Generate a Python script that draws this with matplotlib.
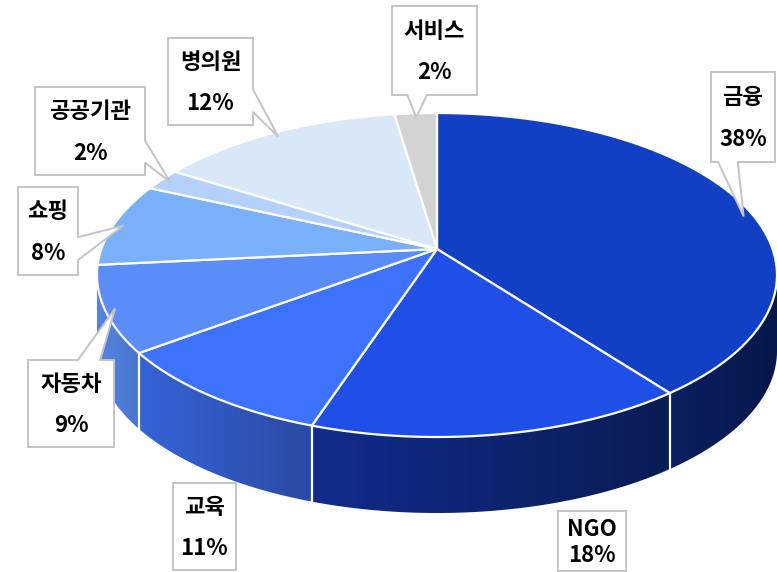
"""
3D-style pie chart of sector shares (Korean labels), drawn in pixel space.
"""
import numpy as np
import matplotlib.pyplot as plt
from matplotlib.patches import Polygon
from matplotlib.colors import to_rgb

# ---- data -------------------------------------------------------------
labels = ["금융", "NGO", "교육", "자동차", "쇼핑", "공공기관", "병의원", "서비스"]
shares = [38, 18, 11, 9, 8, 2, 12, 2]

# ---- style ------------------------------------------------------------
TOP_COLORS = ["#1140c4", "#1f4fe6", "#3d73fb", "#5a8df7",
              "#79b0f9", "#b3d1fa", "#d9e8f8", "#d3d3d3"]
# (left, right) colours of the extruded side wall
SIDE_COLORS = [("#0b1f60", "#07174a"), ("#112c8c", "#0a1c54"),
               ("#3663d6", "#2a4ba4"), ("#5586e2", "#4874cc"),
               ("#5f93e0", "#5f93e0"), ("#9ab8e8", "#9ab8e8"),
               ("#b8cce6", "#b8cce6"), ("#b0b0b0", "#b0b0b0")]

CX, CY = 437, 275          # centre of the rim ellipse (pixels)
RX, RY = 340, 162          # rim radii
APEX = (437, 249)          # where the slices meet
DEPTH = 76                 # thickness of the pie

FONT = ["Noto Sans CJK KR", "DejaVu Sans"]

# label box layout: centre x, centre y, width, height, tail (edge, f0, f1)
LABEL_BOX = {
    "서비스": (434.5, 50.5, 85, 89, ("bottom", 0.18, 0.41)),
    "금융": (743, 117, 64, 90, ("bottom", 0.11, 0.42)),
    "병의원": (210.5, 81.5, 85, 87, ("right", 0.59, 0.85)),
    "공공기관": (90, 131, 110, 88, ("right", 0.61, 0.86)),
    "쇼핑": (48, 231, 60, 88, ("right", 0.57, 0.83)),
    "자동차": (71, 403.5, 86, 87, ("top", 0.58, 0.84)),
    "교육": (204.5, 526.5, 63, 87, None),
    "NGO": (592, 541, 68, 60, None),
}


def rim(t, dy=0.0):
    """Point on the rim ellipse; t in degrees clockwise from 12 o'clock."""
    r = np.deg2rad(t)
    return CX + RX * np.sin(r), CY - RY * np.cos(r) + dy


def arc(a, b, dy=0.0, n=80):
    ts = np.linspace(a, b, n)
    xs, ys = rim(ts, dy)
    return np.column_stack([xs, ys])


def callout(cx, cy, w, h, tail, tip):
    x0, x1, y0, y1 = cx - w / 2, cx + w / 2, cy - h / 2, cy + h / 2
    pts = [(x0, y0)]
    if tail and tail[0] == "top":
        pts += [(x0 + tail[1] * w, y0), tip, (x0 + tail[2] * w, y0)]
    pts.append((x1, y0))
    if tail and tail[0] == "right":
        pts += [(x1, y0 + tail[1] * h), tip, (x1, y0 + tail[2] * h)]
    pts.append((x1, y1))
    if tail and tail[0] == "bottom":
        pts += [(x0 + tail[2] * w, y1), tip, (x0 + tail[1] * w, y1)]
    pts.append((x0, y1))
    return pts


fig = plt.figure(figsize=(7.77, 5.72), dpi=100)
ax = fig.add_axes([0, 0, 1, 1])
ax.axis("off")

total = float(sum(shares))
bounds = np.concatenate([[0], np.cumsum(shares)]) / total * 360.0

# side walls (only the front half of the rim, 90..270 deg, is visible)
for i, (a, b) in enumerate(zip(bounds[:-1], bounds[1:])):
    lo, hi = max(a, 90), min(b, 270)
    if hi <= lo:
        continue
    top = arc(lo, hi)
    bot = arc(hi, lo, DEPTH)
    poly = Polygon(np.vstack([top, bot]), closed=True, facecolor="none",
                   edgecolor="none", zorder=1)
    ax.add_patch(poly)
    xmin, xmax = top[:, 0].min(), top[:, 0].max()
    ymin, ymax = top[:, 1].min() - 2, bot[:, 1].max() + 2
    c0, c1 = np.array(to_rgb(SIDE_COLORS[i][0])), np.array(to_rgb(SIDE_COLORS[i][1]))
    f = np.linspace(0, 1, 200)[:, None]
    grad = (c0 * (1 - f) + c1 * f)[None, :, :]
    im = ax.imshow(grad, extent=[xmin, xmax, ymax, ymin], aspect="auto",
                   interpolation="bilinear", zorder=1)
    im.set_clip_path(poly)

# white seams on the side wall
for t in bounds[1:-1]:
    if 90 < t < 270:
        x, y = rim(t)
        ax.plot([x, x], [y, y + DEPTH], color="white", lw=1.6, zorder=2)

# top face slices
for i, (a, b) in enumerate(zip(bounds[:-1], bounds[1:])):
    pts = np.vstack([[APEX], arc(a, b)])
    ax.add_patch(Polygon(pts, closed=True, facecolor=TOP_COLORS[i],
                         edgecolor="white", lw=1.6, joinstyle="round", zorder=3))

# data labels with callout boxes
for i, (lab, val) in enumerate(zip(labels, shares)):
    cx, cy, w, h, tail = LABEL_BOX[lab]
    mid = (bounds[i] + bounds[i + 1]) / 2
    rx, ry = rim(mid)
    tip = (APEX[0] + 0.97 * (rx - APEX[0]), APEX[1] + 0.97 * (ry - APEX[1]))
    ax.add_patch(Polygon(callout(cx, cy, w, h, tail, tip), closed=True,
                         facecolor="white", edgecolor="#c4c4c4", lw=1.4,
                         joinstyle="miter", zorder=5))
    gap = (-12, 15) if h < 70 else (-19, 22)
    ax.text(cx, cy + gap[0], lab, ha="center", va="center", fontsize=16,
            fontweight="bold", family=FONT, zorder=6)
    ax.text(cx, cy + gap[1], f"{val}%", ha="center", va="center", fontsize=16,
            fontweight="bold", family=FONT, zorder=6)

ax.set_xlim(0, 777)
ax.set_ylim(572, 0)
fig.savefig("out.png", dpi=100, facecolor="white")
